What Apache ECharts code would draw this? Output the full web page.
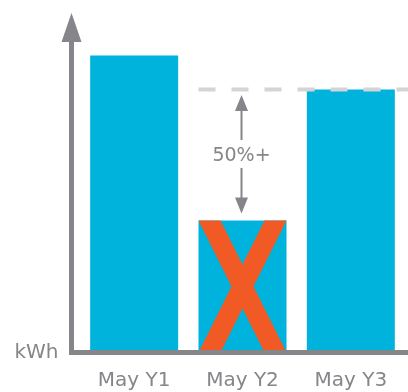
<!DOCTYPE html>
<html>
<head>
<meta charset="utf-8">
<script src="https://cdn.jsdelivr.net/npm/echarts@6/dist/echarts.min.js"></script>
<style>
  html, body { margin: 0; padding: 0; background: #fff; }
  #chart { width: 408px; height: 392px; }
</style>
</head>
<body>
<div id="chart"></div>
<script>
// data
const months = ['May Y1', 'May Y2', 'May Y3'];
const usage = [297, 132, 263];
const crossedIndex = 1;   // bar that gets the big X
const targetIndex = 2;    // bar whose level is the dashed line
const gainLabel = '50%+';
const unitLabel = 'kWh';
const yMax = 325;

const blue = '#00b3dd';
const orange = '#f15a24';
const gray = '#86868a';
const dashGray = '#d4d4d6';
const font = '"DejaVu Sans"';
const barWidth = 88;

// X over the crossed bar + dashed target line + "50%+" arrows
function renderNote(params, api) {
    const idx = api.value(0);
    const base = api.coord([idx, 0]);
    const top = api.coord([idx, api.value(1)]);
    const ref = api.coord([idx, api.value(2)]);
    const x0 = base[0] - barWidth / 2;
    const x1 = base[0] + barWidth / 2;
    const yT = top[1];
    const yB = base[1];
    const yR = ref[1];
    const w = 22;
    const cx = base[0] - 1;
    const mid = (yR + yT) / 2;
    return {
        type: 'group',
        children: [
            { type: 'polygon', shape: { points: [[x0, yT], [x0 + w, yT], [x1, yB], [x1 - w, yB]] }, style: { fill: orange } },
            { type: 'polygon', shape: { points: [[x1, yT], [x1 - w, yT], [x0, yB], [x0 + w, yB]] }, style: { fill: orange } },
            { type: 'line', shape: { x1: x0, y1: yR, x2: api.getWidth(), y2: yR },
              style: { stroke: dashGray, lineWidth: 4, lineDash: [17, 16] } },
            { type: 'line', shape: { x1: cx, y1: yR + 20, x2: cx, y2: mid - 15 }, style: { stroke: gray, lineWidth: 2 } },
            { type: 'polygon', shape: { points: [[cx, yR + 5.5], [cx + 6.5, yR + 21.5], [cx - 6.5, yR + 21.5]] }, style: { fill: gray } },
            { type: 'line', shape: { x1: cx, y1: mid + 13, x2: cx, y2: yT - 21 }, style: { stroke: gray, lineWidth: 2 } },
            { type: 'polygon', shape: { points: [[cx, yT - 7], [cx + 6.5, yT - 23], [cx - 6.5, yT - 23]] }, style: { fill: gray } },
            { type: 'text', style: { text: gainLabel, x: cx, y: mid + 1, align: 'center', verticalAlign: 'middle',
              fill: gray, fontSize: 19, fontFamily: font } }
        ]
    };
}

const myChart = echarts.init(document.getElementById('chart'));
const option = {
    animation: false,
    textStyle: { fontFamily: font },
    grid: { left: 80, right: 3, top: 27.5, bottom: 39.5, outerBoundsMode: 'none' },
    xAxis: {
        type: 'category',
        data: months,
        axisLine: { show: false },
        axisTick: { show: false },
        axisLabel: { color: gray, fontSize: 20, margin: 18, fontFamily: font }
    },
    yAxis: {
        type: 'value',
        min: 0,
        max: yMax,
        interval: yMax,
        offset: 8.5,
        axisLine: {
            show: true,
            symbol: ['none', 'triangle'],
            symbolSize: [20, 29],
            lineStyle: { color: gray, width: 5 }
        },
        axisTick: { show: false },
        splitLine: { show: false },
        axisLabel: {
            formatter: v => (v === 0 ? unitLabel : ''),
            color: gray, fontSize: 20, margin: 13, fontFamily: font
        }
    },
    series: [
        {
            type: 'bar',
            barWidth: barWidth,
            itemStyle: { color: blue },
            data: usage
        },
        {
            type: 'custom',
            z: 3,
            renderItem: renderNote,
            data: [[crossedIndex, usage[crossedIndex], usage[targetIndex]]]
        }
    ]
};
myChart.setOption(option);

// x axis baseline runs from the y axis line to the right edge
const y0 = myChart.convertToPixel({ yAxisIndex: 0 }, 0);
myChart.setOption({
    graphic: [{
        type: 'line',
        z: 100,
        shape: { x1: 69, y1: y0, x2: 408, y2: y0 },
        style: { stroke: gray, lineWidth: 5 }
    }]
});
</script>
</body>
</html>
